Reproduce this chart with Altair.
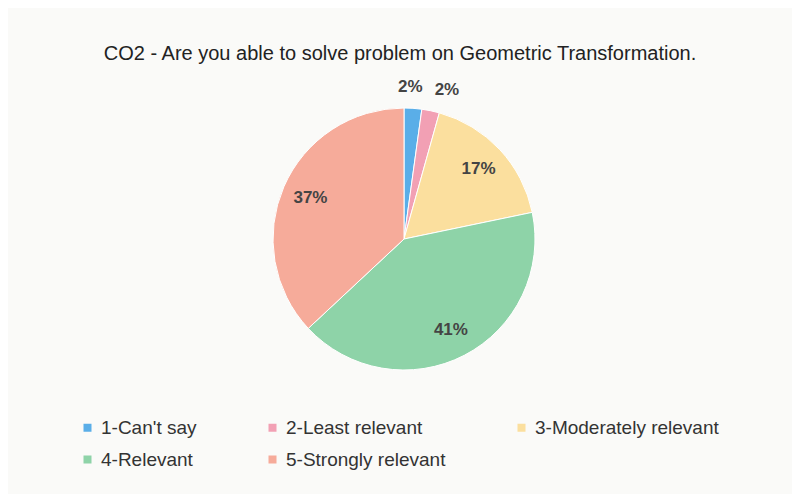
import altair as alt
import pandas as pd

categories = ["1-Can't say", "2-Least relevant", "3-Moderately relevant", "4-Relevant", "5-Strongly relevant"]
counts = [1, 1, 8, 19, 17]
pct_labels = ["2%", "2%", "17%", "41%", "37%"]
colors = ["#5aaee8", "#f2a0b4", "#fbdf9e", "#8ed3a8", "#f6ab9a"]
legend_order = [categories[0], categories[3], categories[1], categories[4], categories[2]]

df = pd.DataFrame({"cat": categories, "count": counts, "label": pct_labels, "order": list(range(len(categories)))})

CX, CY, R = 396, 167, 131

color = alt.Color(
    "cat:N",
    scale=alt.Scale(domain=categories, range=colors),
    legend=alt.Legend(
        title=None, orient="none", legendX=70, legendY=346, columns=3, values=legend_order,
        columnPadding=66, rowPadding=12, symbolType="square", symbolSize=64,
        labelFont="Liberation Sans", labelFontSize=19, labelColor="#333333",
        labelLimit=300, symbolStrokeWidth=0,
    ),
)

base = alt.Chart(df)

theta = alt.Theta("count:Q", stack=True)
order = alt.Order("order:Q")

arcs = base.mark_arc(radius=R, stroke="white", strokeWidth=1).encode(
    theta=theta, color=color, order=order,
    x=alt.value(CX), y=alt.value(CY),
)

text_style = dict(font="Liberation Sans", fontSize=17, fontWeight="bold", color="#444444")

big_labels = base.mark_text(radius=102, **text_style).encode(
    theta=theta, text="label:N", order=order,
    x=alt.value(CX), y=alt.value(CY),
    opacity=alt.condition(alt.datum.count > 3, alt.value(1), alt.value(0)),
)

small1 = base.mark_text(radius=152, dx=-4, **text_style).encode(
    theta=theta, text="label:N", order=order,
    x=alt.value(CX), y=alt.value(CY),
    opacity=alt.condition(alt.datum.order == 0, alt.value(1), alt.value(0)),
)

small2 = base.mark_text(radius=152, dx=12, **text_style).encode(
    theta=theta, text="label:N", order=order,
    x=alt.value(CX), y=alt.value(CY),
    opacity=alt.condition(alt.datum.order == 1, alt.value(1), alt.value(0)),
)

chart = (arcs + big_labels + small1 + small2).properties(
    width=784, height=422,
    autosize=alt.AutoSizeParams(type="none"),
    padding={"top": 64, "left": 0, "right": 0, "bottom": 0},
    background="#fafaf8",
    title=alt.TitleParams(
        "CO2 - Are you able to solve problem on Geometric Transformation.",
        font="Liberation Sans", fontSize=20, fontWeight="normal", color="#222222",
        anchor="middle", offset=8,
    ),
).configure_view(stroke=None)

chart.save("out.html", embed_options={"renderer": "svg", "actions": False})
